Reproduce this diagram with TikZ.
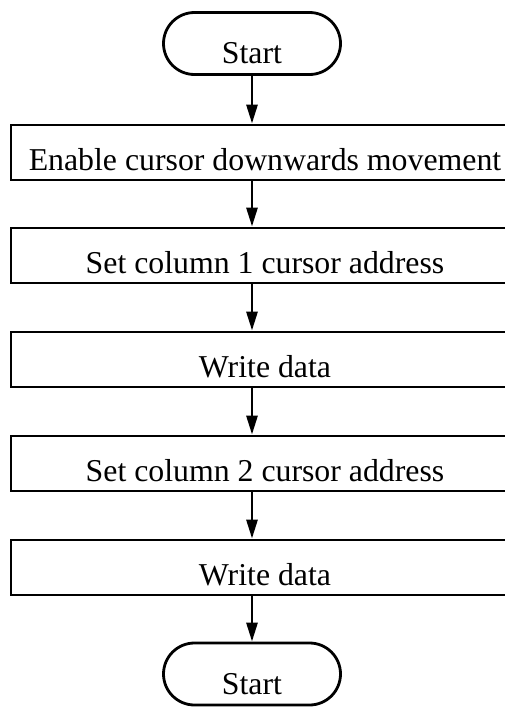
\documentclass[tikz,border=0pt]{standalone}
\usepackage{fontspec}
\setmainfont{Liberation Serif}
\usetikzlibrary{arrows.meta}

\begin{document}
\begin{tikzpicture}[x=1pt,y=-1pt,
  every node/.style={font=\fontsize{31.8}{38}\selectfont,inner sep=0pt,text depth=0pt},
  term/.style={draw,line width=2.8pt,rounded corners=31pt,minimum width=177pt,minimum height=62pt,text height=40pt},
  stepbox/.style={draw,line width=2.8pt,minimum width=508pt,minimum height=55pt,text height=35pt},
  flow/.style={line width=2.8pt,-{Triangle[length=19pt,width=11pt]}}]
\useasboundingbox (0,0) rectangle (505,707);
\node[term] (start) at (252,43.5) {Start};
\node[stepbox] (b1) at (265,152.5) {Enable cursor downwards movement};
\node[stepbox] (b2) at (265,255.5) {Set column 1 cursor address};
\node[stepbox] (b3) at (265,359.5) {Write data};
\node[stepbox] (b4) at (265,463.5) {Set column 2 cursor address};
\node[stepbox] (b5) at (265,567.5) {Write data};
\node[term] (stop) at (252,674) {Start};
\draw[flow] (start) -- (start |- b1.north);
\draw[flow] (b1.south -| start) -- (start |- b2.north);
\draw[flow] (b2.south -| start) -- (start |- b3.north);
\draw[flow] (b3.south -| start) -- (start |- b4.north);
\draw[flow] (b4.south -| start) -- (start |- b5.north);
\draw[flow] (b5.south -| start) -- (stop);
\end{tikzpicture}
\end{document}
